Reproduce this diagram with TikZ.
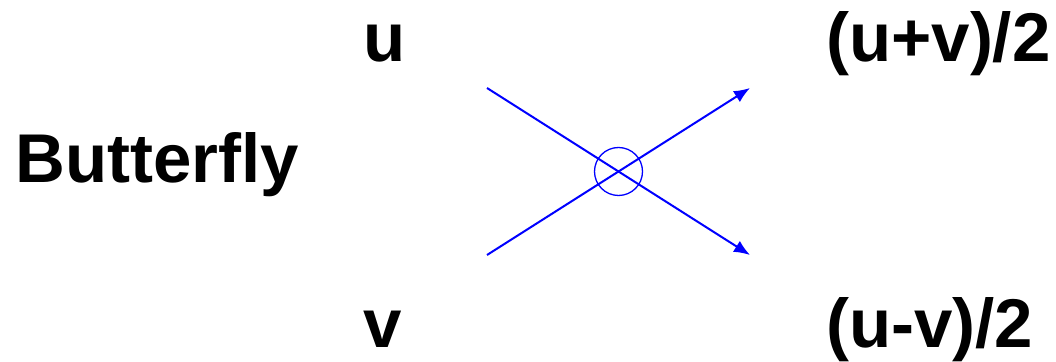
\documentclass[tikz,border=0pt]{standalone}
\usepackage{fontspec}
\setmainfont{Liberation Sans}
\usetikzlibrary{arrows.meta}
\begin{document}
\begin{tikzpicture}[x=1pt, y=1pt, >={Latex[length=16pt,width=13pt]},
        every node/.style={font=\bfseries\fontsize{69}{80}\selectfont, inner sep=0pt, anchor=base west}]
        \useasboundingbox (0,0) rectangle (1056,361);

        \node (title) at (15,178) {Butterfly};
        \node (u) at (363,299) {u};
        \node (v) at (363,13) {v};
        \node (sum) at (826,299) {(u+v)/2};
        \node (diff) at (826,13) {(u-v)/2};

        \coordinate (uin) at (487,273);
        \coordinate (vin) at (487,106);
        \coordinate (sumout) at (750,273);
        \coordinate (diffout) at (750,106);
        \node[draw=blue, line width=1.3pt, circle, minimum size=48pt, anchor=center] (cross) at (618.5,189.5) {};

        \draw[->, blue, line width=2pt] (uin) -- (diffout);
        \draw[->, blue, line width=2pt] (vin) -- (sumout);
    \end{tikzpicture}
\end{document}
